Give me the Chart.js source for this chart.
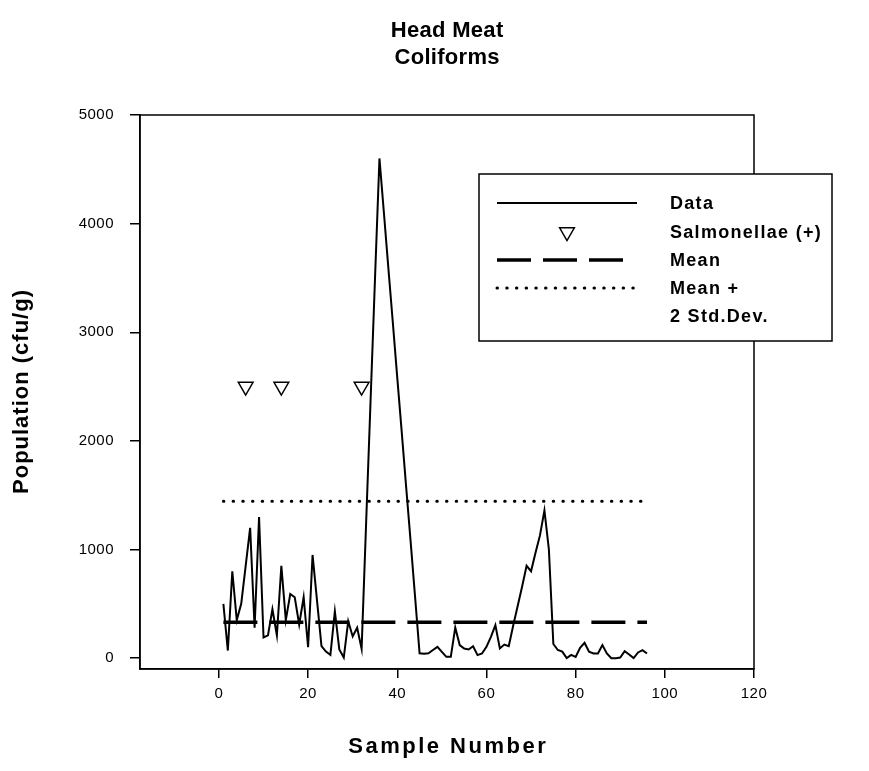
<!DOCTYPE html>
<html>
<head>
<meta charset="utf-8">
<script src="https://cdn.jsdelivr.net/npm/chart.js@4.4.1/dist/chart.umd.min.js"></script>
<style>
  html, body { margin: 0; padding: 0; background: #fff; }
</style>
</head>
<body>
<canvas id="coliformChart" width="869" height="771"></canvas>
<script>
// population per sample (cfu/g), sample number = position + 1
const populations = [
  500, 70, 800, 350, 500, 850, 1200, 280, 1300, 190,
  210, 450, 210, 850, 350, 590, 560, 310, 560, 100,
  950, 530, 110, 60, 30, 430, 80, 5, 340, 200,
  280, 85, 1230, 2360, 3490, 4600, 4100, 3590, 3090, 2580,
  2080, 1570, 1070, 560, 45, 40, 45, 75, 104, 58,
  12, 12, 282, 120, 89, 80, 110, 28, 43, 104,
  196, 304, 89, 125, 110, 300, 480, 660, 850, 800,
  970, 1130, 1360, 1000, 130, 75, 60, 0, 30, 12,
  95, 141, 60, 43, 43, 120, 43, 0, 0, 5,
  64, 34, 0, 52, 74, 43
];
const sampleNumbers = populations.map((v, i) => i + 1);
const salmonellaSamples = [6, 14, 32];
const salmonellaLevel = 2500;
const meanValue = 330;
const meanPlus2sd = 1445;
const xTicks = [0, 20, 40, 60, 80, 100, 120];
const yTicks = [0, 1000, 2000, 3000, 4000, 5000];
const titleLines = ['Head Meat', 'Coliforms'];

const FONT = "'Liberation Sans', Arial, Helvetica, sans-serif";
const firstSample = sampleNumbers[0];
const lastSample = sampleNumbers[sampleNumbers.length - 1];

function spacedText(ctx, text, x, y, font, spacing, align) {
  ctx.font = font;
  ctx.letterSpacing = spacing + 'px';
  ctx.textAlign = align || 'center';
  ctx.textBaseline = 'middle';
  // letterSpacing adds a trailing gap, shift to keep the glyphs centred
  const shift = align === 'left' ? 0 : spacing / 2;
  ctx.fillText(text, x + shift, y);
  ctx.letterSpacing = '0px';
}

// tick labels are drawn a bit tracked, like the original
const trackingPlugin = {
  id: 'tracking',
  beforeDraw(chart) { chart.ctx.letterSpacing = '0.5px'; },
  afterDraw(chart) { chart.ctx.letterSpacing = '0px'; }
};

// box around plot, titles and the legend inside the plot
const framePlugin = {
  id: 'frame',
  afterDraw(chart) {
    const { ctx, chartArea: a } = chart;
    ctx.save();
    ctx.strokeStyle = '#000';
    ctx.lineWidth = 1.5;
    ctx.strokeRect(a.left, a.top, a.right - a.left, a.bottom - a.top);

    ctx.fillStyle = '#000';
    const cx = (a.left + a.right) / 2;
    titleLines.forEach((t, i) => spacedText(ctx, t, cx, 31 + i * 27, 'bold 22px ' + FONT, 0.3));

    spacedText(ctx, chart.options.scales.x.title.text, cx, 747, 'bold 22px ' + FONT, 2.5);
    ctx.save();
    ctx.translate(22, (a.top + a.bottom) / 2);
    ctx.rotate(-Math.PI / 2);
    spacedText(ctx, chart.options.scales.y.title.text, 0, 0, 'bold 22px ' + FONT, 1);
    ctx.restore();
    ctx.restore();
  }
};

const legendBox = { left: 479, top: 174, right: 832, bottom: 341 };
const legendPlugin = {
  id: 'insideLegend',
  afterDraw(chart) {
    const ctx = chart.ctx;
    const b = legendBox;
    ctx.save();
    ctx.fillStyle = '#fff';
    ctx.fillRect(b.left, b.top, b.right - b.left, b.bottom - b.top);
    ctx.strokeStyle = '#000';
    ctx.lineWidth = 1.5;
    ctx.strokeRect(b.left, b.top, b.right - b.left, b.bottom - b.top);

    const rows = [203, 232, 260, 288];
    const sampleEnd = [637, 0, 624, 636];
    const x0 = 497, textX = 670;
    chart.data.datasets.forEach((ds, i) => {
      const y = rows[i];
      ctx.save();
      if (ds.showLine) {
        ctx.strokeStyle = ds.borderColor;
        ctx.lineWidth = ds.borderWidth;
        ctx.setLineDash(ds.borderDash || []);
        ctx.lineCap = ds.borderCapStyle || 'butt';
        ctx.beginPath();
        ctx.moveTo(x0, y);
        ctx.lineTo(sampleEnd[i], y);
        ctx.stroke();
      } else {
        ctx.strokeStyle = ds.pointBorderColor;
        ctx.fillStyle = ds.pointBackgroundColor;
        ctx.lineWidth = ds.pointBorderWidth;
        Chart.helpers.drawPoint(ctx, {
          pointStyle: ds.pointStyle, rotation: ds.rotation,
          radius: ds.pointRadius, borderWidth: ds.pointBorderWidth
        }, 567, y);
      }
      ctx.restore();
      ctx.fillStyle = '#000';
      ds.label.split('\n').forEach((line, k) =>
        spacedText(ctx, line, textX, y + 1 + k * 28.5, 'bold 18px ' + FONT, 1.3, 'left'));
    });
    ctx.restore();
  }
};

const ctx = document.getElementById('coliformChart').getContext('2d');
const chart = new Chart(ctx, {
  type: 'scatter',
  data: {
    datasets: [
      {
        label: 'Data',
        data: sampleNumbers.map((n, i) => ({ x: n, y: populations[i] })),
        showLine: true,
        borderColor: '#000',
        borderWidth: 2,
        pointRadius: 0,
        tension: 0
      },
      {
        label: 'Salmonellae (+)',
        data: salmonellaSamples.map(n => ({ x: n, y: salmonellaLevel })),
        showLine: false,
        pointStyle: 'triangle',
        rotation: 180,
        pointRadius: 8.5,
        pointBackgroundColor: '#fff',
        pointBorderColor: '#000',
        pointBorderWidth: 1.5
      },
      {
        label: 'Mean',
        data: [{ x: firstSample, y: meanValue }, { x: lastSample, y: meanValue }],
        showLine: true,
        borderColor: '#000',
        borderWidth: 3.5,
        borderDash: [34, 12],
        pointRadius: 0
      },
      {
        label: 'Mean +\n2 Std.Dev.',
        data: [{ x: firstSample, y: meanPlus2sd }, { x: lastSample, y: meanPlus2sd }],
        showLine: true,
        borderColor: '#000',
        borderWidth: 3,
        borderDash: [0.5, 9.2],
        borderCapStyle: 'round',
        pointRadius: 0
      }
    ]
  },
  options: {
    responsive: false,
    animation: false,
    events: [],
    layout: { padding: { top: 115, right: 115, left: 0, bottom: 0 } },
    plugins: {
      legend: { display: false },
      tooltip: { enabled: false },
      title: { display: false }
    },
    scales: {
      x: {
        type: 'linear',
        min: -17.7,
        max: 120,
        afterBuildTicks: s => { s.ticks = xTicks.map(v => ({ value: v })); },
        afterFit: s => { s.height = 102; },
        grid: { drawOnChartArea: false, drawTicks: true, tickLength: 9, color: '#000', lineWidth: 1.5 },
        border: { color: '#000', width: 1.5 },
        ticks: { color: '#000', font: { family: FONT, size: 15 }, padding: 7, maxRotation: 0,
                 callback: v => String(v) },
        title: { display: false, text: 'Sample Number' }
      },
      y: {
        min: -100,
        max: 5000,
        afterBuildTicks: s => { s.ticks = yTicks.map(v => ({ value: v })); },
        afterFit: s => { s.width = 140; },
        grid: { drawOnChartArea: false, drawTicks: true, tickLength: 10, color: '#000', lineWidth: 1.5 },
        border: { color: '#000', width: 1.5 },
        ticks: { color: '#000', font: { family: FONT, size: 15 }, padding: 16,
                 callback: v => String(v) },
        title: { display: false, text: 'Population (cfu/g)' }
      }
    }
  },
  plugins: [trackingPlugin, framePlugin, legendPlugin]
});
</script>
</body>
</html>
